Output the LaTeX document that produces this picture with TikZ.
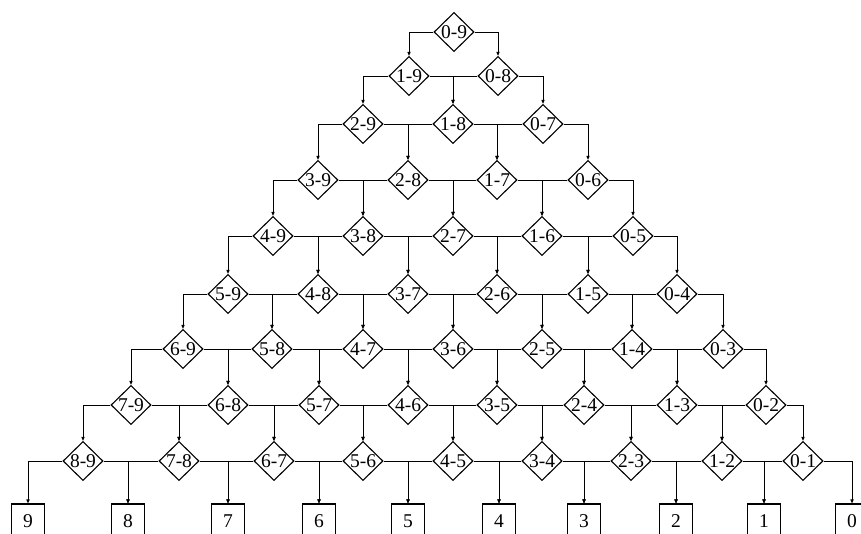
\documentclass[tikz,border=0pt]{standalone}
\usepackage{fontspec}
\setmainfont{Liberation Serif}
\usetikzlibrary{shapes.geometric,arrows.meta}
\begin{document}
\begin{tikzpicture}[x=1pt,y=-1pt,
  dia/.style={diamond,draw,line width=1.1pt,inner sep=0pt,minimum width=40pt,minimum height=39pt,font=\fontsize{19.5}{19.5}\selectfont},
  outbox/.style={rectangle,draw,line width=1.1pt,minimum width=33pt,minimum height=34pt,inner sep=0pt,font=\fontsize{19.5}{19.5}\selectfont},
  link/.style={line width=0.9pt,-{Triangle[length=4pt,width=3.2pt]}}]
\clip (0,0) rectangle (861,533);
% diamonds
\foreach \r/\y/\xs in {0/32/{454},
                       1/76/{409,498},
                       2/124/{363,453,543},
                       3/180/{318,408,497,588},
                       4/236/{273,363,453,542,633},
                       5/294/{228,318,408,497,588,677},
                       6/349/{183,272,363,453,542,632,723},
                       7/405/{131,228,319,408,497,584,677,766},
                       8/461/{83,179,274,363,453,542,631,722,803}}{
  \foreach \x [count=\j from 0] in \xs {
    \pgfmathtruncatemacro\a{\r-\j}
    \pgfmathtruncatemacro\b{9-\j}
    \node[dia] (n\r-\j) at (\x,\y) {\a-\b};
  }
}
% result boxes
\foreach \x [count=\k from 0] in {28,128,228,319,408,499,584,676,764,852} {
  \pgfmathtruncatemacro\v{9-\k}
  \node[outbox] (b\k) at (\x,521) {\v};
}
% connectors between diamond rows
\foreach \r in {0,...,7} {
  \pgfmathtruncatemacro\rr{\r+1}
  \foreach \j in {0,...,\r} {
    \pgfmathtruncatemacro\jj{\j+1}
    \draw[link] (n\r-\j.west) -| (n\rr-\j.north);
    \draw[link] (n\r-\j.east) -| (n\rr-\jj.north);
  }
}
% connectors to result boxes
\foreach \j in {0,...,8} {
  \pgfmathtruncatemacro\jj{\j+1}
  \draw[link] (n8-\j.west) -| (b\j.north);
  \draw[link] (n8-\j.east) -| (b\jj.north);
}
\end{tikzpicture}
\end{document}
